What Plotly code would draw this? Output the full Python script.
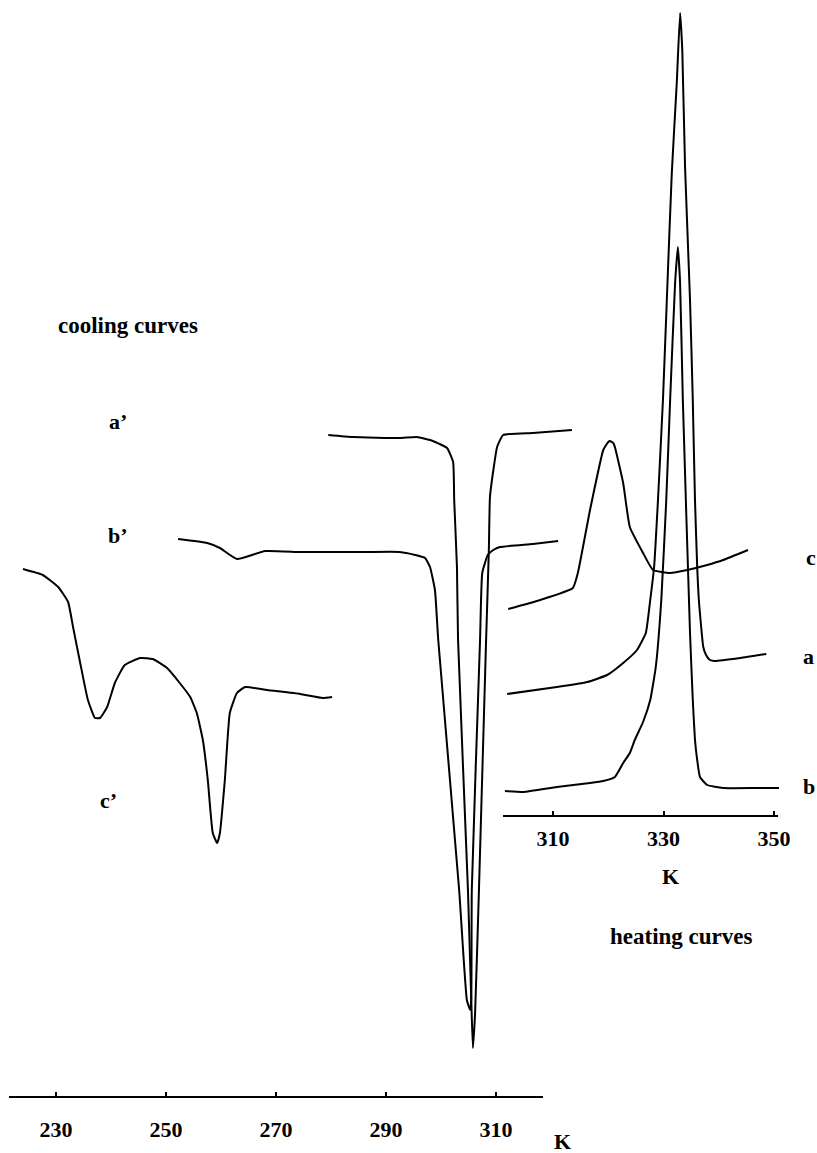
import plotly.graph_objects as go

# ---- cooling curves (temperature in K, heat flow in arbitrary units) ----
a_cool_T = [279.5, 284.0, 292.5, 295.6, 298.5, 301.1, 302.2, 302.4, 302.9, 303.1,
            304.9, 305.5, 305.8, 306.2, 306.9, 308.2, 308.7, 308.9, 309.6, 310.2,
            311.3, 316.7, 323.8]
a_cool_q = [71.8, 71.6, 71.5, 71.6, 71.2, 70.5, 69.1, 65.3, 58.6, 51.3,
            26.3, 15.3, 10.5, 14.0, 26.3, 51.3, 60.3, 65.6, 68.6, 70.6,
            71.8, 72.0, 72.3]

b_cool_T = [252.2, 257.5, 259.8, 262.9, 268.0, 274.4, 280.4, 286.5, 292.5, 295.3,
            297.1, 298.0, 298.9, 299.5, 303.3, 304.7, 305.3, 305.5, 305.6, 307.1,
            307.5, 308.5, 309.5, 310.7, 316.7, 321.3]
b_cool_q = [61.4, 61.0, 60.5, 59.4, 60.2, 60.1, 60.1, 60.1, 60.1, 59.8,
            59.5, 58.6, 56.3, 51.3, 26.3, 15.3, 14.3, 15.3, 26.3, 51.3,
            58.0, 59.8, 60.3, 60.6, 60.9, 61.2]

c_cool_T = [224.0, 227.6, 230.4, 232.2, 233.1, 234.4, 235.8, 237.1, 238.0, 239.3,
            240.7, 242.5, 245.3, 247.6, 250.2, 252.5, 254.4, 255.6, 256.7, 257.6,
            258.5, 259.3, 259.8, 260.7, 261.6, 262.9, 264.4, 268.4, 274.4, 278.5,
            280.2]
c_cool_q = [58.4, 57.8, 56.6, 55.1, 52.6, 49.0, 45.3, 43.5, 43.5, 44.6,
            47.0, 48.8, 49.5, 49.4, 48.5, 47.0, 45.6, 44.0, 41.3, 37.3,
            32.0, 31.0, 32.0, 37.3, 44.0, 46.0, 46.6, 46.3, 45.9, 45.5,
            45.6]

# ---- heating curves ----
a_heat_T = [301.7, 310.7, 316.2, 319.8, 322.7, 325.2, 326.8, 327.6, 328.3, 329.0,
            329.9, 330.6, 331.5, 332.4, 333.0, 333.4, 333.9, 334.8, 335.3, 335.7,
            336.1, 336.4, 337.2, 337.7, 338.4, 339.3, 343.9, 348.6]
a_heat_q = [45.9, 46.6, 47.1, 47.8, 49.0, 50.3, 52.0, 55.3, 58.6, 65.3,
            75.3, 85.3, 98.0, 107.0, 114.0, 110.3, 98.6, 85.3, 75.3, 65.3,
            58.6, 55.3, 50.6, 49.8, 49.3, 49.2, 49.5, 49.9]

b_heat_T = [301.3, 304.6, 310.7, 316.7, 319.1, 321.2, 322.7, 323.9, 324.8, 326.3,
            327.6, 328.6, 329.6, 330.5, 331.2, 332.1, 332.6, 333.0, 333.5, 334.8,
            335.3, 335.7, 336.1, 336.6, 337.9, 340.8, 346.9, 350.9]
b_heat_q = [36.2, 36.1, 36.6, 37.0, 37.2, 37.6, 39.0, 40.0, 41.3, 43.1,
            45.3, 48.6, 55.3, 65.3, 75.3, 87.0, 90.6, 87.0, 75.3, 52.0,
            45.3, 41.3, 39.3, 37.6, 36.8, 36.5, 36.5, 36.5]

c_heat_T = [301.9, 307.7, 313.6, 314.5, 316.7, 319.1, 320.0, 320.3, 320.9, 321.2,
            322.7, 323.9, 326.3, 328.1, 331.2, 334.3, 337.9, 340.8, 345.3]
c_heat_q = [54.4, 55.3, 56.5, 58.0, 64.3, 70.3, 71.1, 71.2, 71.0, 70.6,
            67.0, 62.6, 60.0, 58.3, 58.0, 58.3, 58.8, 59.3, 60.3]

# ---- axis ticks ----
cool_ticks = [230, 250, 270, 290, 310]
heat_ticks = [310, 330, 350]

# ---- page geometry ----
W, H = 817, 1153
FONT = "Liberation Serif"

# cooling temperature scale: 5.5 px per K, 230 K at x = 56 px
c_px, c_T0, c_x0 = 5.5, 230.0, 56.0
# heating temperature scale: 5.525 px per K, 310 K at x = 553 px
h_px, h_T0, h_x0 = 5.525, 310.0, 553.0


def t_at(px, s, t0, x0):
    return t0 + (px - x0) / s


fig = go.Figure()
line = dict(color="black", width=2, shape="spline", smoothing=0.4)
for T, q in [(a_cool_T, a_cool_q), (b_cool_T, b_cool_q), (c_cool_T, c_cool_q)]:
    fig.add_trace(go.Scatter(x=T, y=q, mode="lines", line=line,
                             xaxis="x", yaxis="y", hoverinfo="skip"))
for T, q in [(a_heat_T, a_heat_q), (b_heat_T, b_heat_q), (c_heat_T, c_heat_q)]:
    fig.add_trace(go.Scatter(x=T, y=q, mode="lines", line=line,
                             xaxis="x2", yaxis="y", hoverinfo="skip"))
# empty traces so the two visible temperature axes are drawn
fig.add_trace(go.Scatter(x=[], y=[], xaxis="x3", yaxis="y", hoverinfo="skip"))
fig.add_trace(go.Scatter(x=[], y=[], xaxis="x4", yaxis="y", hoverinfo="skip"))

hidden = dict(visible=False, showgrid=False, zeroline=False, fixedrange=True,
              automargin=False)
tickfont = dict(family=FONT, size=22, color="black", weight="bold")
shown = dict(showline=True, linecolor="black", linewidth=2,
             showgrid=False, zeroline=False, fixedrange=True, automargin=False,
             ticks="inside", ticklen=4, tickwidth=1.5, tickcolor="black",
             tickfont=tickfont, anchor="free")

fig.update_layout(
    width=W, height=H,
    margin=dict(l=0, r=0, t=0, b=0, pad=0),
    paper_bgcolor="white", plot_bgcolor="rgba(0,0,0,0)",
    showlegend=False,
    yaxis=dict(range=[0, H / 10], domain=[0, 1], **hidden),
    xaxis=dict(domain=[0, 1], range=[t_at(0, c_px, c_T0, c_x0), t_at(W, c_px, c_T0, c_x0)],
               **hidden),
    xaxis2=dict(domain=[0, 1], range=[t_at(0, h_px, h_T0, h_x0), t_at(W, h_px, h_T0, h_x0)],
                overlaying="x", **hidden),
    xaxis3=dict(domain=[9 / W, 543 / W],
                range=[t_at(9, c_px, c_T0, c_x0), t_at(543, c_px, c_T0, c_x0)],
                position=1 - 1097 / H,
                tickvals=cool_ticks, ticktext=[str(t) for t in cool_ticks],
                ticklabelstandoff=13, **shown),
    xaxis4=dict(domain=[503 / W, 778 / W],
                range=[t_at(503, h_px, h_T0, h_x0), t_at(778, h_px, h_T0, h_x0)],
                position=1 - 816 / H,
                tickvals=heat_ticks, ticktext=[str(t) for t in heat_ticks],
                ticklabelstandoff=3, **shown),
)

# (text, x px, y px, font size)
labels = [
    ("cooling curves", 128, 325, 23),
    ("a\u2019", 118, 422, 22),
    ("b\u2019", 118, 535, 22),
    ("c\u2019", 108, 800, 22),
    ("c", 811, 557, 22),
    ("a", 808, 657, 22),
    ("b", 809, 786, 22),
    ("K", 670, 876, 22),
    ("heating curves", 681, 936, 23),
    ("K", 562, 1141, 22),
]
for text, px, py, size in labels:
    fig.add_annotation(text=text, x=px / W, y=1 - py / H, xref="paper", yref="paper",
                       xanchor="center", yanchor="middle", showarrow=False,
                       font=dict(family=FONT, size=size, color="black", weight="bold"))

fig.write_html("out.html", config={"responsive": False, "displayModeBar": False})
